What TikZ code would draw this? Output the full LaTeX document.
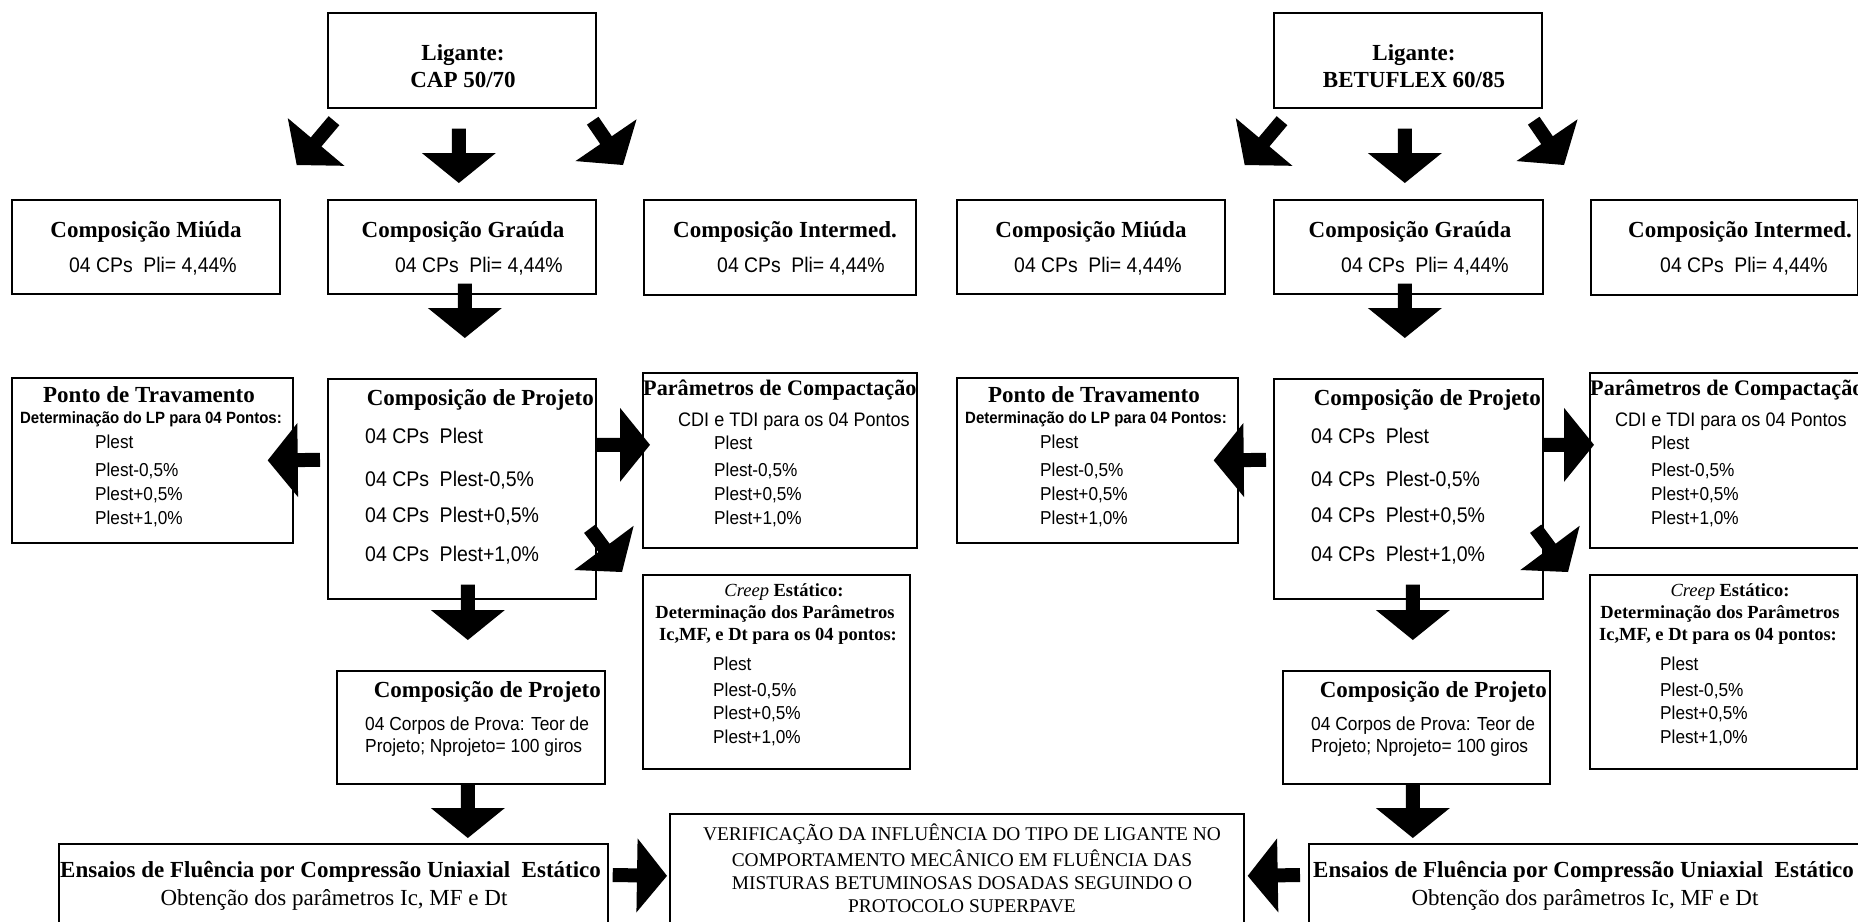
\documentclass[tikz,border=0pt]{standalone}
\usepackage{fontspec}
\setmainfont{Liberation Serif}
\newfontfamily\arialf[FakeStretch=0.92]{Liberation Sans}
\usetikzlibrary{calc}

\tikzset{
  x=1pt, y=-1pt,
  box/.style={draw=black, line width=1.7pt, inner sep=0pt, anchor=north west},
  txt/.style={inner sep=0pt, anchor=base},
  txtw/.style={inner sep=0pt, anchor=base west},
  txte/.style={inner sep=0pt, anchor=base east},
  ttl/.style={font=\fontsize{23}{27}\selectfont\bfseries},
  ptl/.style={font=\fontsize{22.2}{26}\selectfont\bfseries},
  pli/.style={font=\arialf\fontsize{21.1}{24}\selectfont},
  det/.style={font=\arialf\bfseries\fontsize{16.3}{19}\selectfont},
  lst/.style={font=\arialf\fontsize{18.7}{22}\selectfont},
  cps/.style={font=\arialf\fontsize{21.2}{24}\selectfont},
  cdi/.style={font=\arialf\fontsize{19.6}{23}\selectfont},
  crp/.style={font=\fontsize{18.5}{22}\selectfont\bfseries},
  prv/.style={font=\arialf\fontsize{18.9}{22}\selectfont},
  sbt/.style={font=\fontsize{23}{27}\selectfont},
  ver/.style={font=\fontsize{19.4}{23}\selectfont},
  arrowfill/.style={fill=black}
}

\newcommand\mkbox[5]{\node[box, minimum width=#4pt, minimum height=#5pt] (#1) at (#2,#3) {};}

\newcommand\blkarrow[2]{%
  \fill[arrowfill] let \p1=(#1), \p2=(#2),
     \n1={atan2(\y2-\y1,\x2-\x1)}, \n2={veclen(\x2-\x1,\y2-\y1)-30} in
     ($(\p1)+({\n1+90}:7pt)$) -- ($(\p1)+({\n1}:{\n2})+({\n1+90}:7pt)$)
     -- ($(\p1)+({\n1}:{\n2})+({\n1+90}:37pt)$) -- (\p2)
     -- ($(\p1)+({\n1}:{\n2})+({\n1-90}:37pt)$) -- ($(\p1)+({\n1}:{\n2})+({\n1-90}:7pt)$)
     -- ($(\p1)+({\n1-90}:7pt)$) -- cycle;}

\begin{document}
\begin{tikzpicture}
\useasboundingbox (0,0) rectangle (1858,921);
\fill[white] (0,0) rectangle (1858,921);
\clip (0,0) rectangle (1858,921);

% ---------------- left half: boxes
\mkbox{Llig}{327}{12}{268}{95}
\mkbox{Lmiu}{11}{199}{268}{94}
\mkbox{Lgra}{327}{199}{268}{94}
\mkbox{Lint}{643}{199}{272}{95}
\mkbox{Lpon}{11}{377}{281}{165}
\mkbox{Lcp}{327}{378}{268}{220}
\mkbox{Lpar}{642}{372}{274}{175}
\mkbox{Lcre}{642}{574}{267}{194}
\mkbox{Lcp2}{336}{670}{268}{113}
\mkbox{Lens}{58}{843}{549}{100}
\mkbox{Ver}{669}{813}{574}{120}

% ---------------- right half: boxes
\mkbox{Rlig}{1273}{12}{268}{95}
\mkbox{Rmiu}{956}{199}{268}{94}
\mkbox{Rgra}{1273}{199}{269}{94}
\mkbox{Rint}{1590}{199}{267}{95}
\mkbox{Rpon}{956}{377}{281}{165}
\mkbox{Rcp}{1273}{378}{269}{220}
\mkbox{Rpar}{1589}{372}{300}{175}
\mkbox{Rcre}{1589}{574}{267}{194}
\mkbox{Rcp2}{1282}{670}{267}{113}
\mkbox{Rens}{1308}{843}{580}{100}

% ---------------- left texts
\node[txt,ttl] (Lligt1) at (463,60) {Ligante:};
\node[txt,ttl] (Lligt2) at (463,87) {CAP 50/70};
\node[txt,ttl] (Lmiut) at (146,237) {Composição Miúda};
\node[txtw,pli] (Lmius) at (69,272) {04 CPs\hspace{.5em}Pli= 4,44\%};
\node[txt,ttl] (Lgrat) at (463,237) {Composição Graúda};
\node[txtw,pli] (Lgras) at (395,272) {04 CPs\hspace{.5em}Pli= 4,44\%};
\node[txt,ttl] (Lintt) at (785,237) {Composição Intermed.};
\node[txtw,pli] (Lints) at (717,272) {04 CPs\hspace{.5em}Pli= 4,44\%};

\node[txt,ttl] (Lpont) at (149,402) {Ponto de Travamento};
\node[txt,det] (Lpond) at (151,423) {Determinação do LP para 04 Pontos:};
\node[txtw,lst] (Lpon1) at (95,448) {Plest};
\node[txtw,lst] (Lpon2) at (95,476) {Plest-0,5\%};
\node[txtw,lst] (Lpon3) at (95,500) {Plest+0,5\%};
\node[txtw,lst] (Lpon4) at (95,524) {Plest+1,0\%};

\node[txte,ttl] (Lcpt) at (594,405) {Composição de Projeto};
\node[txtw,cps] (Lcp1) at (365,443) {04 CPs\hspace{.5em}Plest};
\node[txtw,cps] (Lcp2l) at (365,486) {04 CPs\hspace{.5em}Plest-0,5\%};
\node[txtw,cps] (Lcp3) at (365,522) {04 CPs\hspace{.5em}Plest+0,5\%};
\node[txtw,cps] (Lcp4) at (365,561) {04 CPs\hspace{.5em}Plest+1,0\%};

\node[txtw,ptl] (Lpart) at (643,395) {Parâmetros de Compactação};
\node[txtw,cdi] (Lparc) at (678,426) {CDI e TDI para os 04 Pontos};
\node[txtw,lst] (Lpar1) at (714,449) {Plest};
\node[txtw,lst] (Lpar2) at (714,476) {Plest-0,5\%};
\node[txtw,lst] (Lpar3) at (714,500) {Plest+0,5\%};
\node[txtw,lst] (Lpar4) at (714,524) {Plest+1,0\%};

\node[txt,crp] (Lcre1) at (784,596) {{\mdseries\itshape Creep} Estático:};
\node[txt,crp] (Lcre2) at (775,618) {Determinação dos Parâmetros};
\node[txt,crp] (Lcre3) at (778,640) {Ic,MF, e Dt para os 04 pontos:};
\node[txtw,lst] (Lcre4) at (713,670) {Plest};
\node[txtw,lst] (Lcre5) at (713,696) {Plest-0,5\%};
\node[txtw,lst] (Lcre6) at (713,719) {Plest+0,5\%};
\node[txtw,lst] (Lcre7) at (713,743) {Plest+1,0\%};

\node[txte,ttl] (Lcp2t) at (601,697) {Composição de Projeto};
\node[txtw,prv] (Lcp2a) at (365,730) {04 Corpos de Prova: Teor de};
\node[txtw,prv] (Lcp2b) at (365,752) {Projeto; Nprojeto= 100 giros};

\node[txtw,ttl] (Lenst) at (60,877) {Ensaios de Fluência por Compressão Uniaxial\hspace{.5em}Estático};
\node[txt,sbt] (Lenss) at (334,905) {Obtenção dos parâmetros Ic, MF e Dt};

\node[txt,ver] (Ver1) at (962,840) {VERIFICAÇÃO DA INFLUÊNCIA DO TIPO DE LIGANTE NO};
\node[txt,ver] (Ver2) at (962,866) {COMPORTAMENTO MECÂNICO EM FLUÊNCIA DAS};
\node[txt,ver] (Ver3) at (962,889) {MISTURAS BETUMINOSAS DOSADAS SEGUINDO O};
\node[txt,ver] (Ver4) at (962,912) {PROTOCOLO SUPERPAVE};

% ---------------- right texts
\node[txt,ttl] (Rligt1) at (1414,60) {Ligante:};
\node[txt,ttl] (Rligt2) at (1414,87) {BETUFLEX 60/85};
\node[txt,ttl] (Rmiut) at (1091,237) {Composição Miúda};
\node[txtw,pli] (Rmius) at (1014,272) {04 CPs\hspace{.5em}Pli= 4,44\%};
\node[txt,ttl] (Rgrat) at (1410,237) {Composição Graúda};
\node[txtw,pli] (Rgras) at (1341,272) {04 CPs\hspace{.5em}Pli= 4,44\%};
\node[txt,ttl] (Rintt) at (1740,237) {Composição Intermed.};
\node[txtw,pli] (Rints) at (1660,272) {04 CPs\hspace{.5em}Pli= 4,44\%};

\node[txt,ttl] (Rpont) at (1094,402) {Ponto de Travamento};
\node[txt,det] (Rpond) at (1096,423) {Determinação do LP para 04 Pontos:};
\node[txtw,lst] (Rpon1) at (1040,448) {Plest};
\node[txtw,lst] (Rpon2) at (1040,476) {Plest-0,5\%};
\node[txtw,lst] (Rpon3) at (1040,500) {Plest+0,5\%};
\node[txtw,lst] (Rpon4) at (1040,524) {Plest+1,0\%};

\node[txte,ttl] (Rcpt) at (1541,405) {Composição de Projeto};
\node[txtw,cps] (Rcp1) at (1311,443) {04 CPs\hspace{.5em}Plest};
\node[txtw,cps] (Rcp2l) at (1311,486) {04 CPs\hspace{.5em}Plest-0,5\%};
\node[txtw,cps] (Rcp3) at (1311,522) {04 CPs\hspace{.5em}Plest+0,5\%};
\node[txtw,cps] (Rcp4) at (1311,561) {04 CPs\hspace{.5em}Plest+1,0\%};

\node[txtw,ptl] (Rpart) at (1590,395) {Parâmetros de Compactação};
\node[txtw,cdi] (Rparc) at (1615,426) {CDI e TDI para os 04 Pontos};
\node[txtw,lst] (Rpar1) at (1651,449) {Plest};
\node[txtw,lst] (Rpar2) at (1651,476) {Plest-0,5\%};
\node[txtw,lst] (Rpar3) at (1651,500) {Plest+0,5\%};
\node[txtw,lst] (Rpar4) at (1651,524) {Plest+1,0\%};

\node[txt,crp] (Rcre1) at (1730,596) {{\mdseries\itshape Creep} Estático:};
\node[txt,crp] (Rcre2) at (1720,618) {Determinação dos Parâmetros};
\node[txt,crp] (Rcre3) at (1718,640) {Ic,MF, e Dt para os 04 pontos:};
\node[txtw,lst] (Rcre4) at (1660,670) {Plest};
\node[txtw,lst] (Rcre5) at (1660,696) {Plest-0,5\%};
\node[txtw,lst] (Rcre6) at (1660,719) {Plest+0,5\%};
\node[txtw,lst] (Rcre7) at (1660,743) {Plest+1,0\%};

\node[txte,ttl] (Rcp2t) at (1547,697) {Composição de Projeto};
\node[txtw,prv] (Rcp2a) at (1311,730) {04 Corpos de Prova: Teor de};
\node[txtw,prv] (Rcp2b) at (1311,752) {Projeto; Nprojeto= 100 giros};

\node[txtw,ttl] (Renst) at (1313,877) {Ensaios de Fluência por Compressão Uniaxial\hspace{.5em}Estático};
\node[txt,sbt] (Renss) at (1585,905) {Obtenção dos parâmetros Ic, MF e Dt};

% ---------------- left arrows
\blkarrow{$(Llig.south west)+(7,12)$}{$(Lmiu.north east)+(16,-34)$}
\blkarrow{$(Llig.south)+(-3,20)$}{$(Lgra.north)+(-3,-16)$}
\blkarrow{$(Llig.south east)+(-4,12)$}{$(Lint.north west)+(-20,-34)$}
\blkarrow{$(Lgra.south)+(3,-11)$}{$(Lcp.north)+(3,-40)$}
\blkarrow{$(Lcp.west)+(-7,-29)$}{$(Lpon.east)+(-26,0)$}
\blkarrow{$(Lcp.east)+(0,-44)$}{$(Lpar.west)+(8,-15.5)$}
\blkarrow{$(Lcp.south east)+(-7,-71)$}{$(Lcre.north west)+(-20,-2)$}
\blkarrow{$(Lcp.south)+(6,-15)$}{$(Lcp2.north)+(-3,-30)$}
\blkarrow{$(Lcp2.south)+(-3,-1)$}{$(Lcp2.south |- Lens.north)+(-3,-5)$}
\blkarrow{$(Lens.north east)+(4,32)$}{$(Ver.west)+(-2,2)$}

% ---------------- right arrows
\blkarrow{$(Rlig.south west)+(9,12)$}{$(Rmiu.north east)+(19,-34)$}
\blkarrow{$(Rlig.south)+(-3,20)$}{$(Rgra.north)+(-3.5,-16)$}
\blkarrow{$(Rlig.south east)+(-9,12)$}{$(Rint.north west)+(-26,-34)$}
\blkarrow{$(Rgra.south)+(-3.5,-11)$}{$(Rcp.north)+(-3.5,-40)$}
\blkarrow{$(Rcp.west)+(-7,-29)$}{$(Rpon.east)+(-25,0)$}
\blkarrow{$(Rcp.east)+(0,-44)$}{$(Rpar.west)+(5,-15.5)$}
\blkarrow{$(Rcp.south east)+(-8,-71)$}{$(Rcre.north west)+(-21,-2)$}
\blkarrow{$(Rcp.south)+(4.5,-15)$}{$(Rcp2.north)+(-3.5,-30)$}
\blkarrow{$(Rcp2.south)+(-3.5,-1)$}{$(Rcp2.south |- Rens.north)+(-3.5,-5)$}
\blkarrow{$(Rens.north west)+(-8,32)$}{$(Ver.east)+(3,2)$}
\end{tikzpicture}
\end{document}
